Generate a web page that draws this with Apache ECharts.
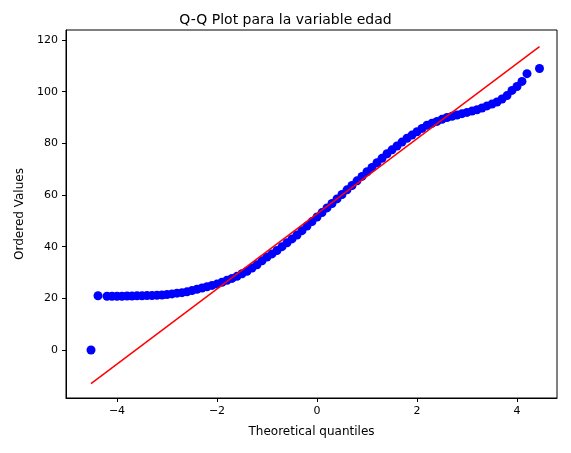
<!DOCTYPE html><html><head><meta charset="utf-8">
<script src="https://cdn.jsdelivr.net/npm/echarts@6/dist/echarts.min.js"></script>
<style>body{margin:0}#c{width:571px;height:453px}</style></head><body><div id="c"></div>
<script>
const qx=[-4.52,-4.38,-4.2,-4.1,-4.0,-3.9,-3.8,-3.7,-3.6,-3.5,-3.4,-3.3,-3.2,-3.1,-3.0,-2.9,-2.8,-2.7,-2.6,-2.5,-2.4,-2.3,-2.2,-2.1,-2.0,-1.9,-1.8,-1.7,-1.6,-1.5,-1.4,-1.3,-1.2,-1.1,-1.0,-0.9,-0.8,-0.7,-0.6,-0.5,-0.4,-0.3,-0.2,-0.1,0,0.1,0.2,0.3,0.4,0.5,0.6,0.7,0.8,0.9,1.0,1.1,1.2,1.3,1.4,1.5,1.6,1.7,1.8,1.9,2.0,2.1,2.2,2.3,2.4,2.5,2.6,2.7,2.8,2.9,3.0,3.1,3.2,3.3,3.4,3.5,3.6,3.7,3.8,3.9,4.0,4.1,4.2,4.45];
const qy=[0,21,20.8,20.8,20.8,20.8,20.9,20.9,21,21,21.1,21.1,21.2,21.3,21.5,21.7,22,22.2,22.5,23,23.5,24,24.5,25,25.5,26.2,27,27.7,28.5,29.5,30.5,31.7,33,34.5,36,37.2,38.5,40,41.5,43,44.5,46.2,48,49.7,51.5,53.2,55,56.7,58.5,60.2,62,63.7,65.5,67.2,69,70.7,72.5,74.2,76,77.5,79,80.5,82,83.2,84.5,85.8,87,87.8,88.5,89.3,90,90.5,91,91.5,92,92.5,93,93.7,94.5,95.2,96,97.2,98.5,100.5,102,104,107,109];
const fitLine=[[-4.52,-13],[4.45,117.5]];
const xTicks=[-4,-2,0,2,4];
const yTicks=[0,20,40,60,80,100,120];
const f='DejaVu Sans';
const ch=echarts.init(document.getElementById('c'));
ch.setOption({
title:{text:'Q-Q Plot para la variable edad',left:'center',top:8,textStyle:{fontFamily:f,fontSize:14,fontWeight:'normal',color:'#000'}},
grid:{left:66,right:14,top:30,bottom:55,show:true,borderColor:'#000',borderWidth:1},
xAxis:{type:'value',min:-5.02,max:4.8,name:'Theoretical quantiles',nameLocation:'middle',nameGap:28,nameTextStyle:{fontFamily:f,fontSize:12,color:'#000'},
 axisLine:{show:true,onZero:false,lineStyle:{color:'#000'}},splitLine:{show:false},
 axisTick:{show:true,customValues:xTicks,length:4,lineStyle:{color:'#000'}},
 axisLabel:{customValues:xTicks,fontFamily:f,fontSize:11,color:'#000',formatter:v=>String(v).replace('-','−')}},
yAxis:{type:'value',min:-18.6,max:123.9,name:'Ordered Values',nameLocation:'middle',nameGap:40,nameTextStyle:{fontFamily:f,fontSize:12,color:'#000'},
 axisLine:{show:true,onZero:false,lineStyle:{color:'#000'}},splitLine:{show:false},
 axisTick:{show:true,customValues:yTicks,length:4,lineStyle:{color:'#000'}},
 axisLabel:{customValues:yTicks,fontFamily:f,fontSize:11,color:'#000'}},
series:[
 {type:'scatter',data:qx.map((x,i)=>[x,qy[i]]),symbolSize:9,itemStyle:{color:'#0000ff',opacity:1},silent:true,animation:false},
 {type:'line',data:fitLine,symbol:'none',lineStyle:{color:'#ff0000',width:1.5},silent:true,animation:false}
]});
</script></body></html>
